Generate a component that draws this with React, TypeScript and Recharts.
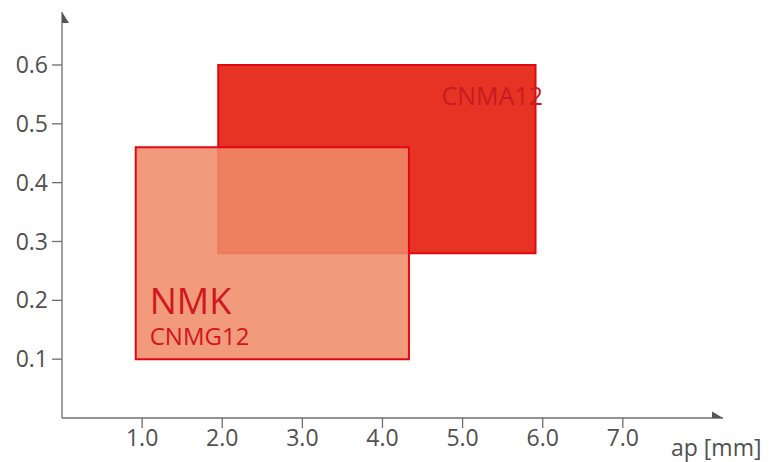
import React from 'react';
import { ComposedChart, XAxis, YAxis, ReferenceArea, Scatter } from 'recharts';

const xTicks = [1, 2, 3, 4, 5, 6, 7];
const yTicks = [0.1, 0.2, 0.3, 0.4, 0.5, 0.6];
const xMax = 8.25;
const yMax = 0.69;
const xAxisLabel = 'ap [mm]';

const zoneNames = ['CNMA12', 'CNMG12'];
const zoneGroup = ['', 'NMK'];
const zoneX1 = [1.95, 0.92];
const zoneX2 = [5.91, 4.33];
const zoneY1 = [0.28, 0.1];
const zoneY2 = [0.6, 0.46];

const arrowX = [{ x: xMax, y: 0 }];
const arrowY = [{ x: 0, y: yMax }];

const FONT = '"Open Sans", "Noto Sans", sans-serif';
const AXIS = '#6e6e6e';
const TEXT = '#505050';

const ArrowRight = (props: any) => {
  const { cx, cy } = props;
  return <path d={`M${cx - 11},${cy - 6.5} L${cx},${cy} L${cx - 11},${cy + 6.5} Z`} fill="#555" />;
};
const ArrowUp = (props: any) => {
  const { cx, cy } = props;
  return <path d={`M${cx - 7},${cy + 11} L${cx},${cy} L${cx + 7},${cy + 11} Z`} fill="#555" />;
};

const labelA = (props: any) => {
  const { x, y, width } = props.viewBox;
  return (
    <text x={x + width - 94} y={y + 40} fill="#c81a22" fontSize={25} fontFamily={FONT}>
      {zoneNames[0]}
    </text>
  );
};
const labelG = (props: any) => {
  const { x, y, height } = props.viewBox;
  return (
    <g fontFamily={FONT} fill="#d3151d">
      <text x={x + 14} y={y + height - 45} fontSize={36}>{zoneGroup[1]}</text>
      <text x={x + 14} y={y + height - 14} fontSize={24}>{zoneNames[1]}</text>
    </g>
  );
};

const xLabel = (props: any) => {
  const { x, y, width } = props.viewBox;
  return (
    <text x={x + width - 52} y={y + 38} fill={TEXT} fontSize={23} fontFamily={FONT}>
      {xAxisLabel}
    </text>
  );
};

export default function App() {
  return (
    <div style={{ position: 'absolute', left: 0, top: 0, background: '#fff' }}>
      <ComposedChart
        width={771}
        height={462}
        margin={{ top: 12, right: 48, bottom: 0, left: 0 }}
        data={arrowX}
      >
        <XAxis
          type="number"
          dataKey="x"
          domain={[0, xMax]}
          ticks={xTicks}
          tickFormatter={(v: number) => v.toFixed(1)}
          allowDataOverflow
          height={44}
          tickSize={10}
          tickMargin={2}
          axisLine={{ stroke: AXIS, strokeWidth: 1.3 }}
          tickLine={{ stroke: AXIS, strokeWidth: 1.3 }}
          tick={{ fill: TEXT, fontSize: 23, fontFamily: FONT }}
          label={{ content: xLabel }}
        />
        <YAxis
          type="number"
          dataKey="y"
          domain={[0, yMax]}
          ticks={yTicks}
          tickFormatter={(v: number) => v.toFixed(1)}
          allowDataOverflow
          width={62}
          tickSize={10}
          tickMargin={4}
          axisLine={{ stroke: AXIS, strokeWidth: 1.3 }}
          tickLine={{ stroke: AXIS, strokeWidth: 1.3 }}
          tick={{ fill: TEXT, fontSize: 23, fontFamily: FONT }}
        />
        <ReferenceArea
          x1={zoneX1[0]}
          x2={zoneX2[0]}
          y1={zoneY1[0]}
          y2={zoneY2[0]}
          fill="#e63323"
          fillOpacity={1}
          stroke="#e30613"
          strokeWidth={2}
          strokeOpacity={1}
          label={{ content: labelA }}
        />
        <ReferenceArea
          x1={zoneX1[1]}
          x2={zoneX2[1]}
          y1={zoneY1[1]}
          y2={zoneY2[1]}
          fill="#ef8b69"
          fillOpacity={0.87}
          stroke="#e30613"
          strokeWidth={2}
          strokeOpacity={1}
          label={{ content: labelG }}
        />
        <Scatter data={arrowX} dataKey="y" shape={ArrowRight} isAnimationActive={false} />
        <Scatter data={arrowY} dataKey="y" shape={ArrowUp} isAnimationActive={false} />
      </ComposedChart>
    </div>
  );
}
